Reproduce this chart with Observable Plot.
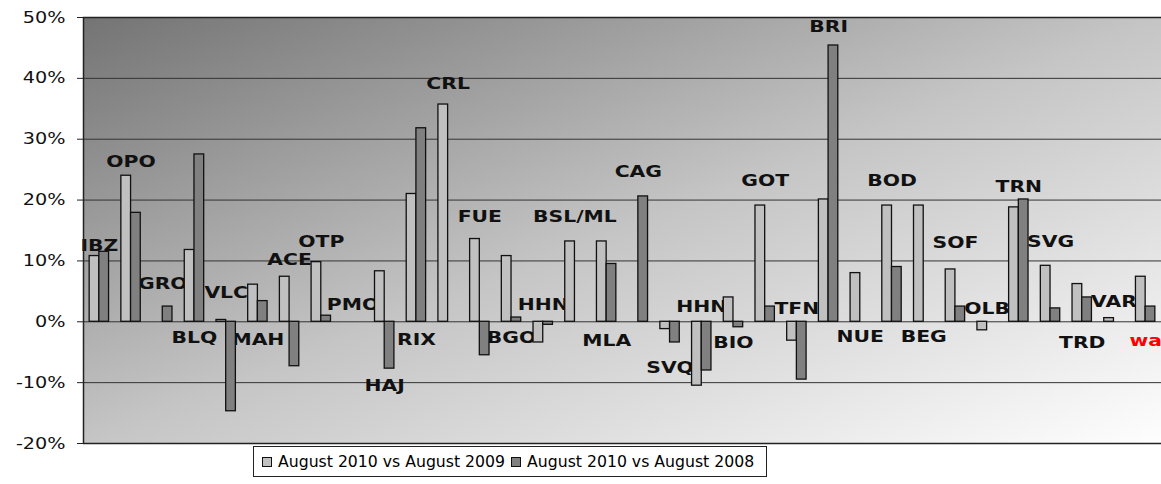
<!DOCTYPE html>
<html>
<head>
<meta charset="utf-8">
<script src="https://cdn.jsdelivr.net/npm/d3@7"></script>
<script src="https://cdn.jsdelivr.net/npm/@observablehq/plot@0.6"></script>
<style>
  html, body { margin: 0; padding: 0; background: #fff; }
  #chart svg { display: block; }
  .legend {
    margin-left: 253px; margin-top: -6px; position: relative;
    display: inline-flex; align-items: center;
    border: 1px solid #222; height: 31px; box-sizing: border-box;
    padding: 0 6px 0 8px;
    font-family: "DejaVu Sans", sans-serif; font-size: 15.7px; color: #000;
  }
  .legend .sw { width: 8px; height: 8px; border: 1px solid #111; margin-right: 6px; display: inline-block; }
  .legend .item { display: inline-flex; align-items: center; margin-right: 6px; }
</style>
</head>
<body>
<div id="chart"></div>
<script>
const categories = ["IBZ","OPO","GRO","BLQ","VLC","MAH","ACE","OTP","PMO","HAJ","RIX","CRL","FUE","BGO","HHN","BSL/ML","MLA","CAG","SVQ","HHN","BIO","GOT","TFN","BRI","NUE","BOD","BEG","SOF","OLB","TRN","SVG","TRD","VAR","wa"];
const vs2009 = [10.8,24.0,null,11.8,0.3,6.1,7.4,9.8,null,8.3,21.0,35.7,13.6,10.8,-3.4,13.2,13.2,null,-1.2,-10.5,4.0,19.1,-3.1,20.1,8.0,19.1,19.1,8.6,-1.4,18.8,9.2,6.2,0.6,7.4];
const vs2008 = [11.5,17.9,2.5,27.5,-14.7,3.4,-7.3,1.0,null,-7.7,31.8,null,-5.5,0.7,-0.5,null,9.5,20.6,-3.4,-8.0,-0.9,2.5,-9.5,45.4,null,9.0,null,2.5,null,20.1,2.2,4.0,null,2.5];
const labelY = [12.5,26.3,6.2,-2.6,4.7,-3.0,10.1,13.2,2.8,-10.6,-3.0,39.1,17.2,-2.6,2.7,17.2,-3.2,24.6,-7.5,2.4,-3.5,23.1,2.1,48.4,-2.5,23.1,-2.5,12.9,2.1,22.1,13.2,-3.5,3.2,-3.1];
const yTicks = [-20,-10,0,10,20,30,40,50];
const seriesNames = ["August 2010 vs August 2009","August 2010 vs August 2008"];
const seriesColors = ["#c0c0c0","#808080"];

const rows = categories.map((c, i) => ({i, label: c, a: vs2009[i], b: vs2008[i], ly: labelY[i]}));

const W = 1161, H = 452, mL = 83, mR = 0, mT = 17, mB = 9;
const padInner = 0.694, padOuter = padInner / 2;
const step = (W - mL - mR) / categories.length;
const half = step * (1 - padInner) / 2;

const defs = () => {
  const g = d3.create("svg:defs");
  const lg = g.append("linearGradient").attr("id", "bgGrad")
    .attr("x1", 0).attr("y1", 0).attr("x2", 1).attr("y2", 1);
  lg.append("stop").attr("offset", 0).attr("stop-color", "#747474");
  lg.append("stop").attr("offset", 0.5).attr("stop-color", "#c5c5c5");
  lg.append("stop").attr("offset", 1).attr("stop-color", "#fefefe");
  return g.node();
};

const chart = Plot.plot({
  width: W, height: H,
  marginLeft: mL, marginRight: mR, marginTop: mT, marginBottom: mB,
  style: {fontFamily: "DejaVu Sans, sans-serif", background: "transparent"},
  x: {type: "band", domain: d3.range(categories.length), paddingInner: padInner, paddingOuter: padOuter, round: false, axis: null},
  y: {domain: [-20, 50], axis: null},
  marks: [
    defs,
    Plot.frame({fill: "url(#bgGrad)", stroke: null}),
    Plot.gridY(yTicks, {stroke: "#333", strokeOpacity: 1, strokeWidth: 1}),
    Plot.text(rows, {x: "i", y: "ly", text: "label", fontSize: 16, fontWeight: "bold",
      fill: d => d.label === "wa" ? "#ff0000" : "#111", textAnchor: "middle", className: "lbl"}),
    Plot.barY(rows, {x: "i", y1: 0, y2: "a", dx: -half, fill: seriesColors[0], stroke: "#111", strokeWidth: 1.3}),
    Plot.barY(rows, {x: "i", y1: 0, y2: "b", dx: half, fill: seriesColors[1], stroke: "#111", strokeWidth: 1.3}),
    Plot.frame({stroke: "#222", strokeWidth: 1.5, insetRight: -2}),
    Plot.axisY(yTicks, {tickSize: 6, tickPadding: 12, fontSize: 16, tickFormat: d => `${d}%`, stroke: "#222", fill: "#111", className: "yax"})
  ]
});

document.getElementById("chart").appendChild(chart);

// the reference glyphs are horizontally stretched
function stretch(sel, k) {
  chart.querySelectorAll(sel).forEach(t => {
    const len = t.getComputedTextLength();
    if (len > 0) {
      t.setAttribute("textLength", (len * k).toFixed(2));
      t.setAttribute("lengthAdjust", "spacingAndGlyphs");
    }
  });
}
stretch(".lbl text", 1.27);
stretch(".yax text", 1.2);

// legend
const legend = d3.select("body").append("div").attr("class", "legend");
seriesNames.forEach((n, k) => {
  const it = legend.append("span").attr("class", "item");
  it.append("span").attr("class", "sw").style("background", seriesColors[k]);
  it.append("span").text(n);
});
</script>
</body>
</html>
